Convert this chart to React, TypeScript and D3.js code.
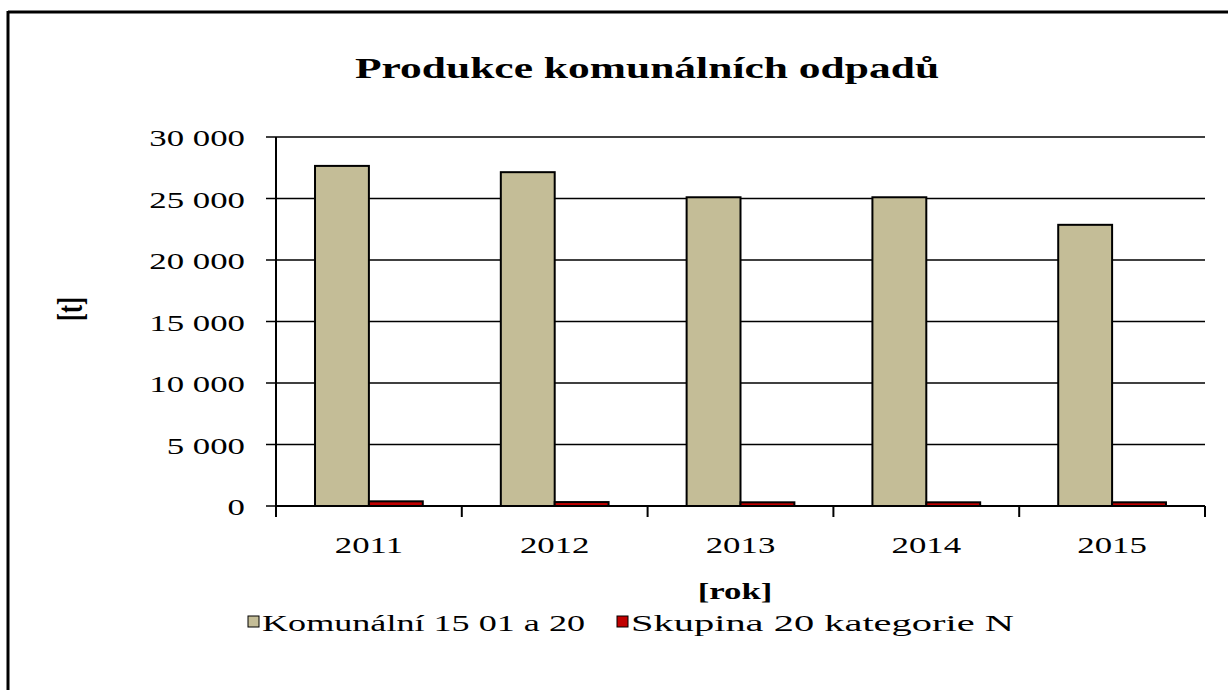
import React from "react";
import * as d3 from "d3";

// Data
const years = ["2011", "2012", "2013", "2014", "2015"];
const seriesNames = ["Komunální 15 01 a 20", "Skupina 20 kategorie N"];
const komunalni = [27650, 27140, 25100, 25100, 22860];
const skupina20 = [380, 320, 300, 300, 300];
const yTicks = [0, 5000, 10000, 15000, 20000, 25000, 30000];

const colors = ["#C4BD97", "#C00000"];

const W = 1228;
const H = 690;
const SX = 1.45; // horizontal stretch of the original raster text
const FONT = "'Liberation Serif', 'Times New Roman', serif";

const fmt = (v: number) =>
  v === 0 ? "0" : `${Math.floor(v / 1000)} ${String(v % 1000).padStart(3, "0")}`;

const App: React.FC = () => {
  const left = 276;
  const right = 1205;
  const top = 137;
  const bottom = 506;

  const x = d3
    .scaleBand<string>()
    .domain(years)
    .range([left, right])
    .paddingInner(0.42)
    .paddingOuter(0.21);
  const xs = d3
    .scaleBand<string>()
    .domain(seriesNames)
    .range([0, x.bandwidth()]);
  const y = d3.scaleLinear().domain([0, 30000]).range([bottom, top]);

  const step = (right - left) / years.length;
  const series = [komunalni, skupina20];

  return (
    <svg
      width={W}
      height={H}
      style={{ position: "absolute", left: 0, top: 0, background: "#fff" }}
    >
      <rect x={0} y={0} width={W} height={H} fill="#fff" />
      {/* frame */}
      <line x1={8} y1={12} x2={W} y2={12} stroke="#000" strokeWidth={3} />
      <line x1={8} y1={11} x2={8} y2={H} stroke="#000" strokeWidth={3} />

      {/* title */}
      <text
        transform={`translate(647,78) scale(${SX},1)`}
        textAnchor="middle"
        fontFamily={FONT}
        fontWeight="bold"
        fontSize={30}
      >
        Produkce komunálních odpadů
      </text>

      {/* gridlines + y ticks */}
      {yTicks.map((t) => (
        <g key={t}>
          <line
            x1={266}
            x2={t === 0 ? left : right}
            y1={y(t)}
            y2={y(t)}
            stroke="#000"
            strokeWidth={1.5}
          />
          <text
            transform={`translate(245,${y(t) + 9}) scale(${SX},1)`}
            textAnchor="end"
            fontFamily={FONT}
            fontSize={24}
          >
            {fmt(t)}
          </text>
        </g>
      ))}

      {/* bars */}
      {series.map((vals, si) =>
        years.map((yr, i) => {
          const bx = (x(yr) as number) + (xs(seriesNames[si]) as number);
          const by = y(vals[i]);
          return (
            <rect
              key={`${si}-${yr}`}
              x={bx}
              y={by}
              width={xs.bandwidth()}
              height={bottom - by}
              fill={colors[si]}
              stroke="#000"
              strokeWidth={2}
            />
          );
        })
      )}

      {/* axes */}
      <line x1={left} y1={top} x2={left} y2={bottom + 11} stroke="#000" strokeWidth={2} />
      <line x1={left} y1={bottom} x2={right} y2={bottom} stroke="#000" strokeWidth={2} />
      {d3.range(years.length + 1).map((i) => (
        <line
          key={i}
          x1={left + i * step}
          x2={left + i * step}
          y1={bottom}
          y2={bottom + 11}
          stroke="#000"
          strokeWidth={2}
        />
      ))}

      {/* x labels */}
      {years.map((yr) => (
        <text
          key={yr}
          transform={`translate(${(x(yr) as number) + x.bandwidth() / 2},553) scale(${SX},1)`}
          textAnchor="middle"
          fontFamily={FONT}
          fontSize={24}
        >
          {yr}
        </text>
      ))}

      {/* axis titles */}
      <text
        transform={`translate(735,599) scale(${SX},1)`}
        textAnchor="middle"
        fontFamily={FONT}
        fontWeight="bold"
        fontSize={24}
      >
        [rok]
      </text>
      <text
        transform={`translate(82,309) rotate(-90) scale(1,${SX})`}
        textAnchor="middle"
        fontFamily={FONT}
        fontWeight="bold"
        fontSize={24}
      >
        [t]
      </text>

      {/* legend */}
      {seriesNames.map((name, i) => {
        const lx = [248, 617][i];
        return (
          <g key={name}>
            <rect
              x={lx}
              y={616}
              width={11}
              height={11}
              fill={colors[i]}
              stroke="#000"
              strokeWidth={1}
            />
            <text
              transform={`translate(${lx + 14},631) scale(${SX},1)`}
              fontFamily={FONT}
              fontSize={24}
              textLength={[323, 383][i] / SX}
              lengthAdjust="spacingAndGlyphs"
            >
              {name}
            </text>
          </g>
        );
      })}
    </svg>
  );
};

export default App;
